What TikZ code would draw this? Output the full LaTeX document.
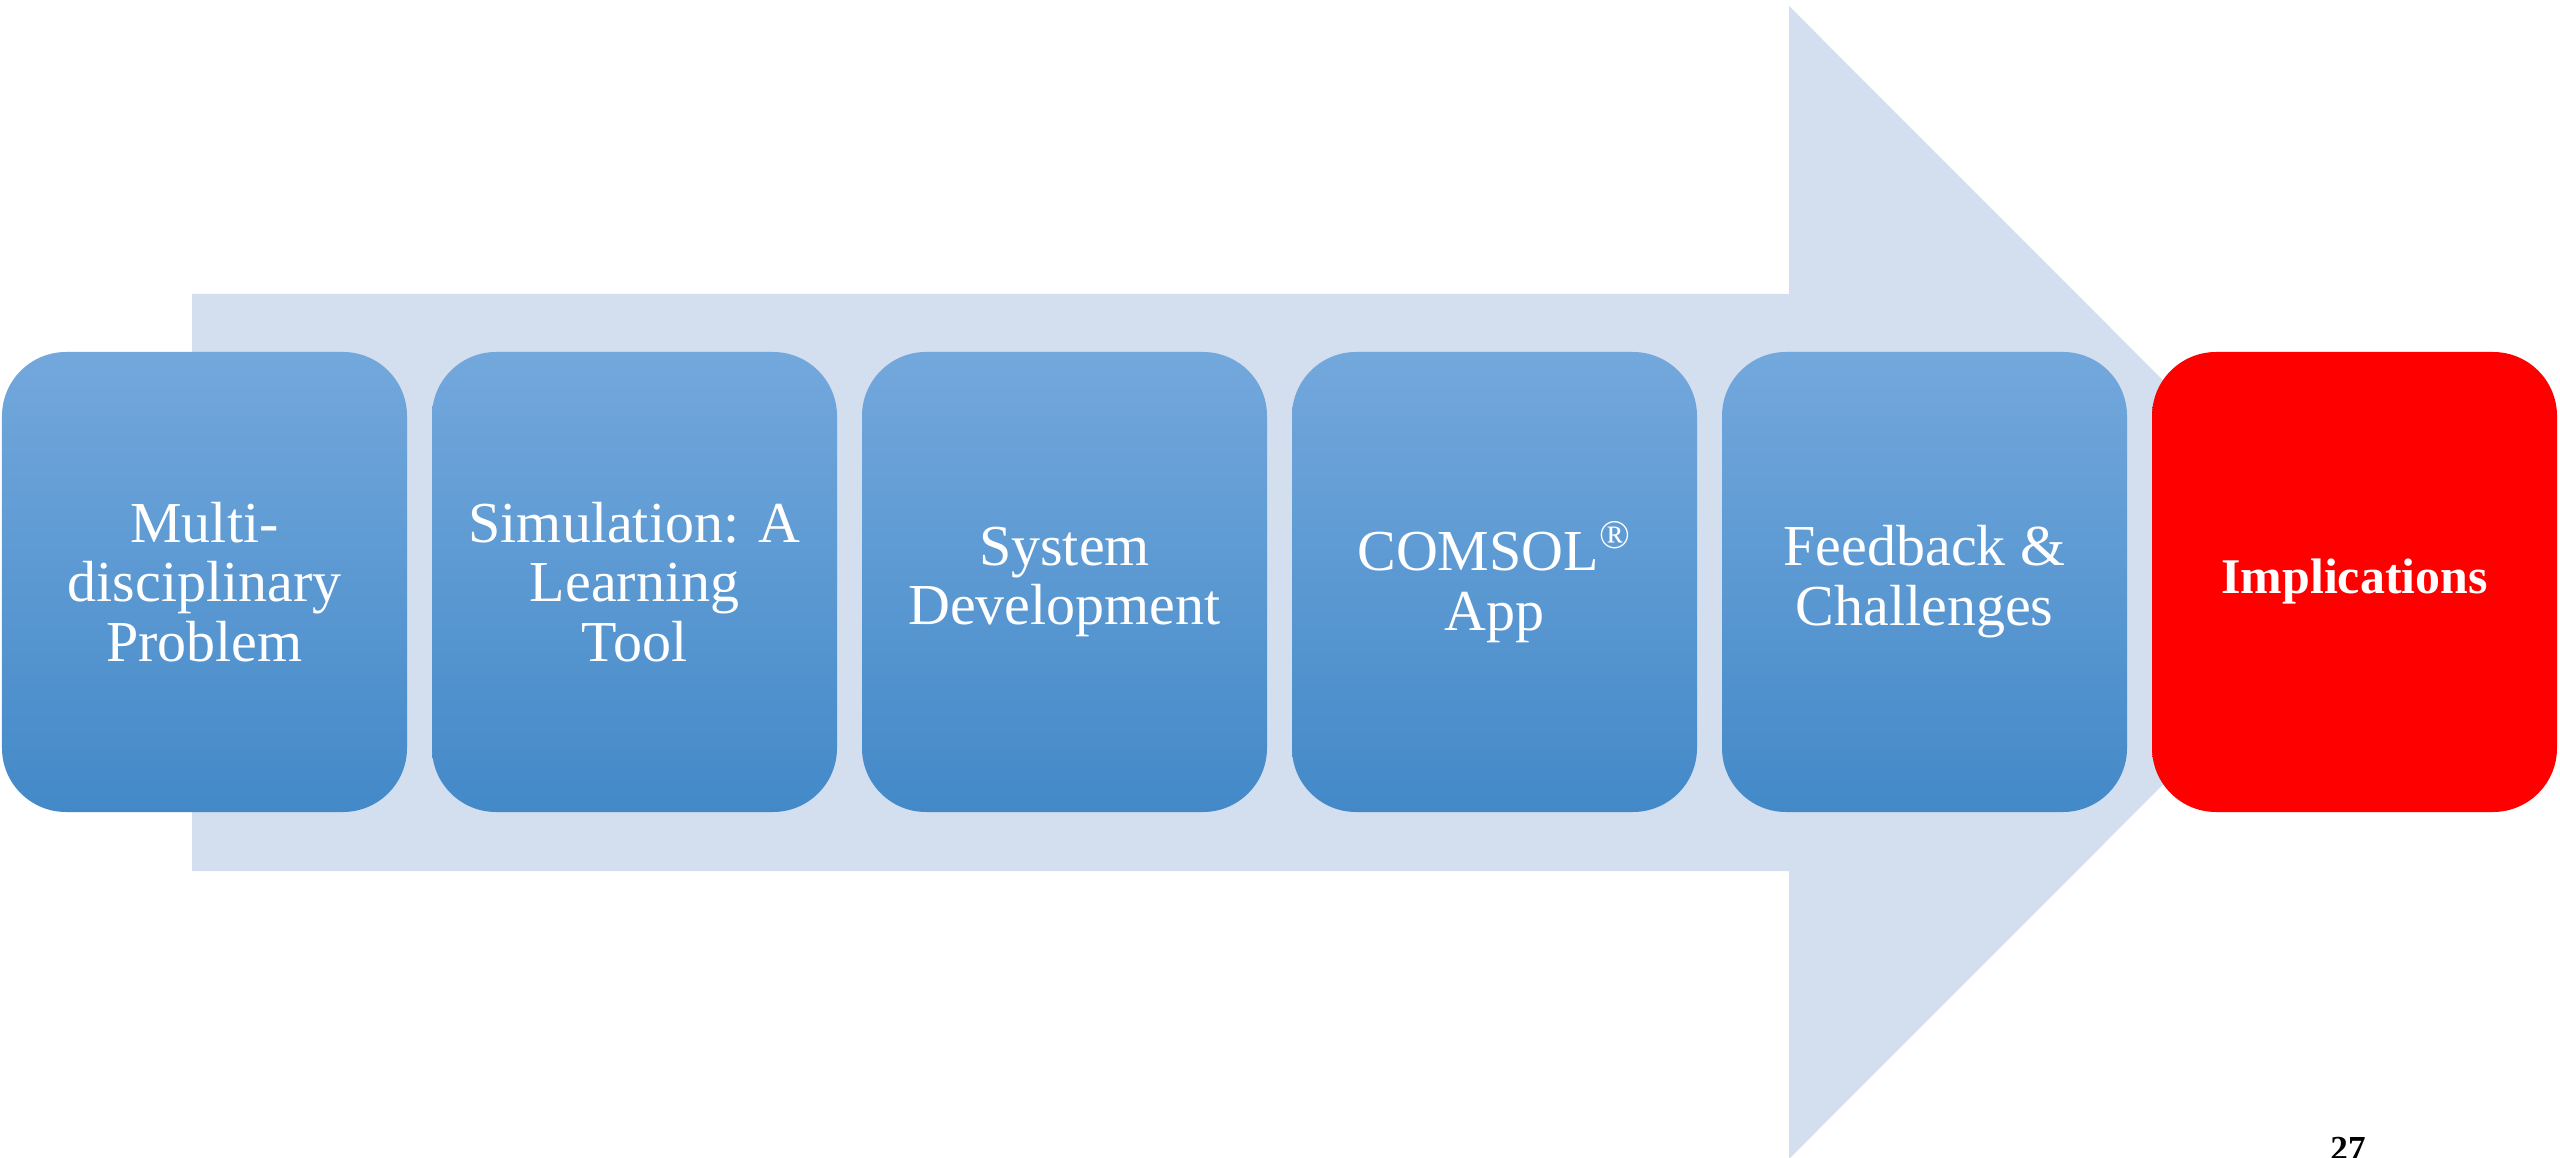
\documentclass[tikz,border=0pt]{standalone}
\usepackage{fontspec}
\setmainfont{Liberation Serif}
\definecolor{arrowfill}{RGB}{211,222,239}
\definecolor{boxtop}{RGB}{115,168,220}
\definecolor{boxbottom}{RGB}{67,137,200}
\begin{document}
\begin{tikzpicture}[
    stage/.style={rounded corners=0.64cm, minimum width=4.05cm, minimum height=4.6cm,
        top color=boxtop, bottom color=boxbottom, text=white, align=center,
        font=\fontsize{16.5}{17}\selectfont, inner sep=0},
    laststage/.style={stage, top color=red, bottom color=red, font=\fontsize{14.2}{17}\selectfont\bfseries}
  ]
    \useasboundingbox (0, 0) rectangle (25.6, 11.57) ;

    % the big arrow behind the steps
    \fill[arrowfill] (1.92, 2.86) -- (17.89, 2.86) -- (17.89, -0.02) -- (23.65, 5.745)
        -- (17.89, 11.51) -- (17.89, 8.63) -- (1.92, 8.63) -- cycle ;

    \node[stage] (multi) at (2.045, 5.75) {Multi-\\disciplinary\\Problem} ;
    \node[stage] (sim) at (6.345, 5.75) {Simulation: A\\Learning\\Tool} ;
    \node[stage] (sysdev) at (10.645, 5.75) {System\\Development} ;
    \node[stage] (comsol) at (14.945, 5.75) {COMSOL\textsuperscript{®}\\App} ;
    \node[stage] (feedback) at (19.245, 5.75) {Feedback \&\\Challenges} ;
    \node[laststage] (impl) at (23.545, 5.75) {Implications} ;

    \node[anchor=north, inner sep=0, font=\fontsize{10}{10}\selectfont\bfseries] (page) at (23.48, 0.20) {27} ;
\end{tikzpicture}
\end{document}
